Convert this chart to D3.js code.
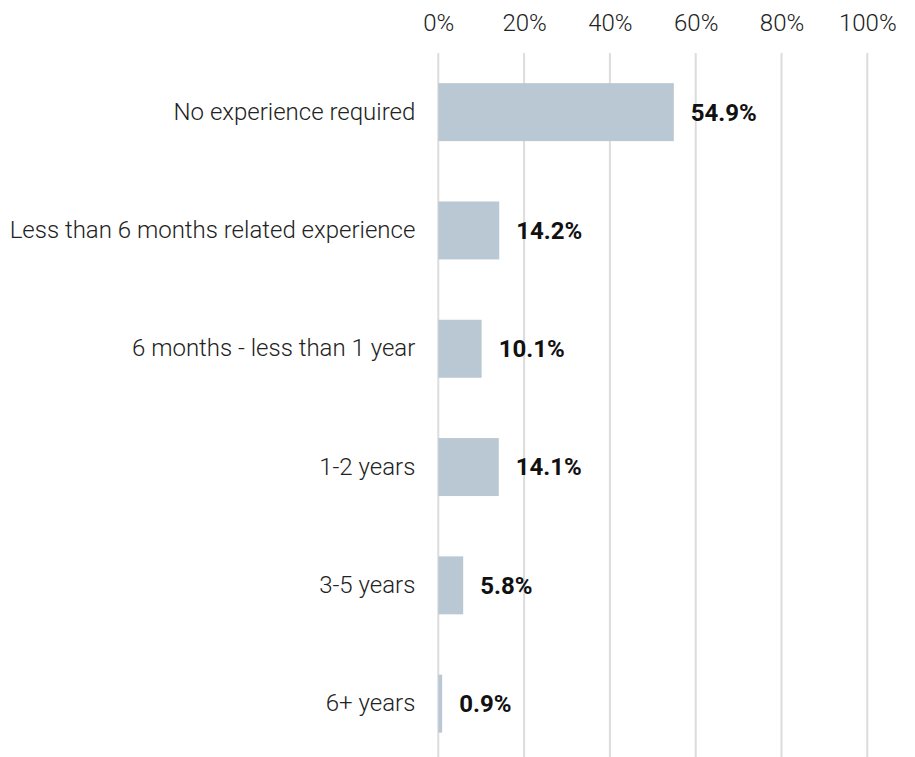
<!DOCTYPE html>
<html>
<head>
<meta charset="utf-8">
<script src="https://cdn.jsdelivr.net/npm/d3@7"></script>
<style>
  html, body { margin: 0; padding: 0; background: #fff; }
  svg { display: block; font-family: Roboto, "Noto Sans", sans-serif; }
</style>
</head>
<body>
<svg id="chart" width="915" height="757"></svg>
<script>
// Share of postings by experience requirement (percent)
const categories = [
  "No experience required",
  "Less than 6 months related experience",
  "6 months - less than 1 year",
  "1-2 years",
  "3-5 years",
  "6+ years"
];
const values = [54.9, 14.2, 10.1, 14.1, 5.8, 0.9];
const tickValues = [0, 20, 40, 60, 80, 100];

const svg = d3.select("#chart");
const W = 915, H = 757;
const plotLeft = 438.3, plotRight = 867.3, plotTop = 53;

const x = d3.scaleLinear().domain([0, 100]).range([plotLeft, plotRight]);
const y = d3.scaleBand()
  .domain(categories)
  .range([plotTop, 762.8])
  .paddingInner(0.51)
  .paddingOuter(0.255);

// vertical gridlines
svg.append("g")
  .selectAll("line")
  .data(tickValues)
  .join("line")
  .attr("x1", d => x(d)).attr("x2", d => x(d))
  .attr("y1", plotTop).attr("y2", H)
  .attr("stroke", "#dcdcdc")
  .attr("stroke-width", 2);

// top axis labels
const xAxis = d3.axisTop(x).tickValues(tickValues).tickFormat(d => d + "%").tickSize(0).tickPadding(0);
const ax = svg.append("g").attr("transform", "translate(0,31)").call(xAxis);
ax.select(".domain").remove();
ax.selectAll("text")
  .attr("dy", "0")
  .attr("y", 0)
  .style("font-family", "Roboto, sans-serif")
  .style("font-weight", 300)
  .style("font-size", "24px")
  .attr("fill", "#222");

// category labels
const yAxis = d3.axisLeft(y).tickSize(0).tickPadding(0);
const ay = svg.append("g").attr("transform", `translate(${plotLeft - 23},0)`).call(yAxis);
ay.select(".domain").remove();
ay.selectAll("text")
  .style("font-family", "Roboto, sans-serif")
  .style("font-weight", 300)
  .style("font-size", "24px")
  .attr("fill", "#222");

// bars
svg.append("g")
  .selectAll("rect")
  .data(values)
  .join("rect")
  .attr("x", x(0))
  .attr("y", (d, i) => y(categories[i]))
  .attr("width", d => x(d) - x(0))
  .attr("height", y.bandwidth())
  .attr("fill", "#bac8d3");

// value labels
svg.append("g")
  .selectAll("text")
  .data(values)
  .join("text")
  .attr("x", d => x(d) + 17)
  .attr("y", (d, i) => y(categories[i]) + y.bandwidth() / 2)
  .attr("dy", "0.35em")
  .style("font-family", "Roboto, sans-serif")
  .style("font-weight", 700)
  .style("font-size", "24px")
  .attr("fill", "#111")
  .text(d => d.toFixed(1) + "%");
</script>
</body>
</html>
